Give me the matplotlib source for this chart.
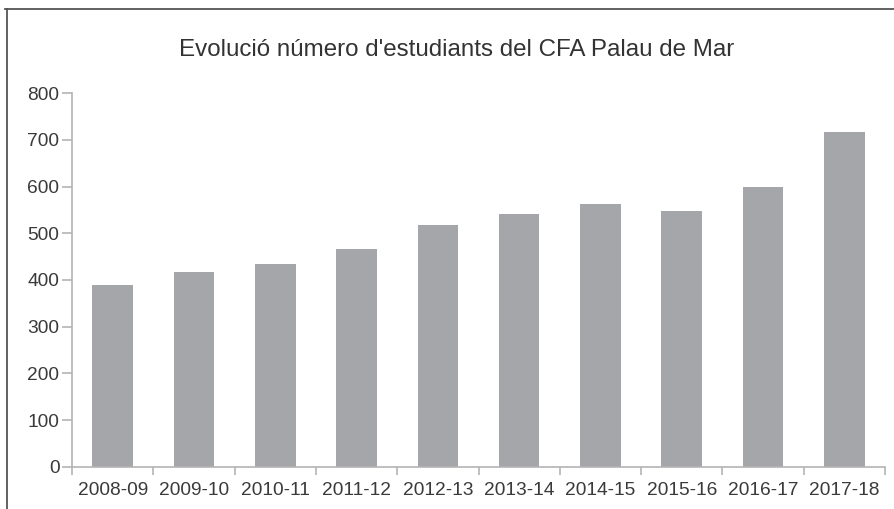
import matplotlib
matplotlib.use("Agg")
import matplotlib.pyplot as plt
from matplotlib.lines import Line2D
import numpy as np

categories = ["2008-09", "2009-10", "2010-11", "2011-12", "2012-13",
              "2013-14", "2014-15", "2015-16", "2016-17", "2017-18"]
students = [389, 417, 434, 466, 518, 542, 563, 547, 599, 718]
y_ticks = [0, 100, 200, 300, 400, 500, 600, 700, 800]
title = "Evolució número d'estudiants del CFA Palau de Mar"

plt.rcParams['font.family'] = ['Liberation Sans', 'DejaVu Sans']

W, H = 894, 509
fig = plt.figure(figsize=(W / 100, H / 100), dpi=100)
ax = fig.add_axes([72 / W, 1 - 466.7 / H, (885 - 72) / W, (466.7 - 93.3) / H])

x = np.arange(len(categories))
ax.bar(x, students, width=0.5, color='#a5a6aa')

ax.set_xlim(-0.5, len(categories) - 0.5)
ax.set_ylim(0, 800)
ax.set_yticks(y_ticks)
ax.set_yticklabels([str(v) for v in y_ticks])
ax.set_xticks(x)
ax.set_xticklabels(categories)
ax.set_xticks(np.arange(len(categories) + 1) - 0.5, minor=True)

axis_col = '#b4b4b4'
text_col = '#3a3a3a'
for s in ['top', 'right']:
    ax.spines[s].set_visible(False)
for s in ['left', 'bottom']:
    ax.spines[s].set_color(axis_col)
    ax.spines[s].set_linewidth(1.2)

ax.tick_params(axis='y', which='major', length=7, width=1.2, color=axis_col,
               labelsize=13.8, labelcolor=text_col, pad=2)
ax.tick_params(axis='x', which='major', length=0, labelsize=13.8,
               labelcolor=text_col, pad=11)
ax.tick_params(axis='x', which='minor', length=6, width=1.2, color=axis_col)

fig.text((177 + 737) / 2 / W, 1 - 50 / H, title, ha='center', va='center',
         fontsize=17.4, color='#333333')

# outer frame lines (top and left)
fig.add_artist(Line2D([5 / W, 1.0], [1 - 9 / H, 1 - 9 / H], color='#555555',
                      linewidth=1.3, transform=fig.transFigure))
fig.add_artist(Line2D([7 / W, 7 / W], [1 - 9 / H, 0.0], color='#555555',
                      linewidth=1.3, transform=fig.transFigure))

fig.savefig("out.png", dpi=100)
